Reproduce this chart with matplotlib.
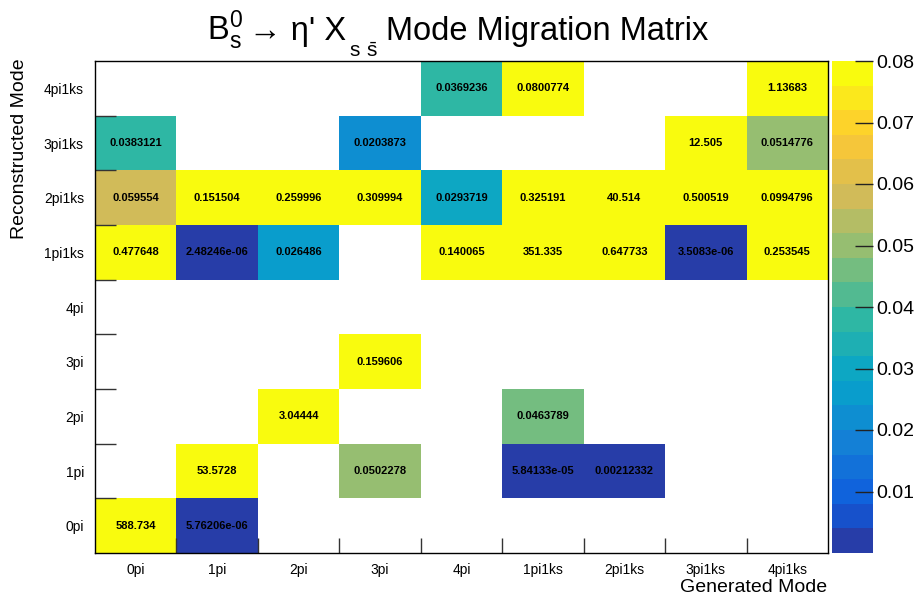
import numpy as np
import matplotlib
matplotlib.use("Agg")
import matplotlib.pyplot as plt
from matplotlib.colors import ListedColormap, BoundaryNorm

plt.rcParams["font.family"] = ["Liberation Sans", "DejaVu Sans"]
plt.rcParams["mathtext.fontset"] = "custom"
plt.rcParams["mathtext.rm"] = "Liberation Sans"

modes = ["0pi", "1pi", "2pi", "3pi", "4pi", "1pi1ks", "2pi1ks", "3pi1ks", "4pi1ks"]
nan = np.nan

# rows: reconstructed mode, columns: generated mode (same order as modes)
row_0pi    = [588.734, 5.76206e-06, nan, nan, nan, nan, nan, nan, nan]
row_1pi    = [nan, 53.5728, nan, 0.0502278, nan, 5.84133e-05, 0.00212332, nan, nan]
row_2pi    = [nan, nan, 3.04444, nan, nan, 0.0463789, nan, nan, nan]
row_3pi    = [nan, nan, nan, 0.159606, nan, nan, nan, nan, nan]
row_4pi    = [nan, nan, nan, nan, nan, nan, nan, nan, nan]
row_1pi1ks = [0.477648, 2.48246e-06, 0.026486, nan, 0.140065, 351.335, 0.647733, 3.5083e-06, 0.253545]
row_2pi1ks = [0.059554, 0.151504, 0.259996, 0.309994, 0.0293719, 0.325191, 40.514, 0.500519, 0.0994796]
row_3pi1ks = [0.0383121, nan, nan, 0.0203873, nan, nan, nan, 12.505, 0.0514776]
row_4pi1ks = [nan, nan, nan, nan, 0.0369236, 0.0800774, nan, nan, 1.13683]

matrix = np.array([row_0pi, row_1pi, row_2pi, row_3pi, row_4pi,
                   row_1pi1ks, row_2pi1ks, row_3pi1ks, row_4pi1ks])

zmin, zmax, ncont = 0.0, 0.08, 20

# kBird palette, sampled the way ROOT picks one colour per contour band
stops = [0.0, 0.125, 0.25, 0.375, 0.5, 0.625, 0.75, 0.875, 1.0]
red   = [0.2082, 0.0592, 0.0780, 0.0232, 0.1802, 0.5301, 0.8186, 0.9956, 0.9764]
green = [0.1664, 0.3599, 0.5041, 0.6419, 0.7178, 0.7492, 0.7328, 0.7862, 0.9832]
blue  = [0.5293, 0.8684, 0.8385, 0.7914, 0.6425, 0.4662, 0.3499, 0.1968, 0.0539]
band_colors = []
for k in range(ncont):
    t = int((k + 0.99) * 255 / ncont) / 254.0
    band_colors.append((np.interp(t, stops, red), np.interp(t, stops, green),
                        np.interp(t, stops, blue)))
cmap = ListedColormap(band_colors)
cmap.set_over(band_colors[-1])
cmap.set_bad("white")
norm = BoundaryNorm(np.linspace(zmin, zmax, ncont + 1), ncont)

W, H = 920, 600
fig = plt.figure(figsize=(W / 100, H / 100), dpi=100)
ax = fig.add_axes([95 / W, 1 - 553 / H, 733 / W, 492 / H])
cax = fig.add_axes([832 / W, 1 - 553 / H, 41 / W, 492 / H])

edges = np.arange(len(modes) + 1)
mesh = ax.pcolormesh(edges, edges, np.ma.masked_invalid(matrix), cmap=cmap, norm=norm)

for i in range(len(modes)):
    for j in range(len(modes)):
        v = matrix[i, j]
        if np.isnan(v):
            continue
        ax.text(j + 0.5, i + 0.5, f"{v:g}", ha="center", va="center",
                fontsize=8, fontweight="bold", color="black")

ax.set_xlim(0, len(modes))
ax.set_ylim(0, len(modes))
ax.set_xticks(edges[:-1] + 0.5)
ax.set_xticklabels(modes, fontsize=10)
ax.set_yticks(edges[:-1] + 0.5)
ax.set_yticklabels(modes, fontsize=10)
ax.tick_params(axis="both", which="major", length=0)
ax.tick_params(axis="x", which="major", pad=7)
ax.tick_params(axis="y", which="major", pad=8)
ax.set_xticks(edges[1:-1], minor=True)
ax.set_yticks(edges[1:-1], minor=True)
ax.tick_params(axis="x", which="minor", direction="in", length=10.5, width=1, color="#333333")
ax.tick_params(axis="y", which="minor", direction="in", length=15, width=1, color="#333333")
for sp in ax.spines.values():
    sp.set_linewidth(1)
    sp.set_zorder(5)

fig.text(827 / W, 1 - 588 / H, "Generated Mode", fontsize=14, ha="right", va="center")
fig.text(20 / W, 1 - 58 / H, "Reconstructed Mode", fontsize=14, rotation=90,
         ha="center", va="top")

cb = fig.colorbar(mesh, cax=cax, extend="neither")
cb.set_ticks([0.01, 0.02, 0.03, 0.04, 0.05, 0.06, 0.07, 0.08])
cb.set_ticklabels(["0.01", "0.02", "0.03", "0.04", "0.05", "0.06", "0.07", "0.08"])
cb.outline.set_visible(False)
cax.tick_params(direction="in", length=13, width=1, color="#222222", labelsize=14, pad=2)
cb.minorticks_off()

# title built from pieces so the X subscript can sit low like the ROOT latex
renderer = fig.canvas.get_renderer()
base_y = 1 - 40 / H
x = 207.0
pieces = [
    (r"$\mathregular{B_s^0}$", 23.5, 0, 6),
    ("\u2192 \u03b7' X", 23.5, 0, 3),
    (r"$\mathregular{s\ \bar{s}}$", 15, 17, 8),
    ("Mode Migration Matrix", 23.5, 0, 0),
]
for s, size, drop, gap in pieces:
    t = fig.text(x / W, base_y - drop / H, s, fontsize=size, ha="left", va="baseline")
    bb = t.get_window_extent(renderer)
    x = bb.x1 + gap

fig.savefig("out.png", dpi=100)
